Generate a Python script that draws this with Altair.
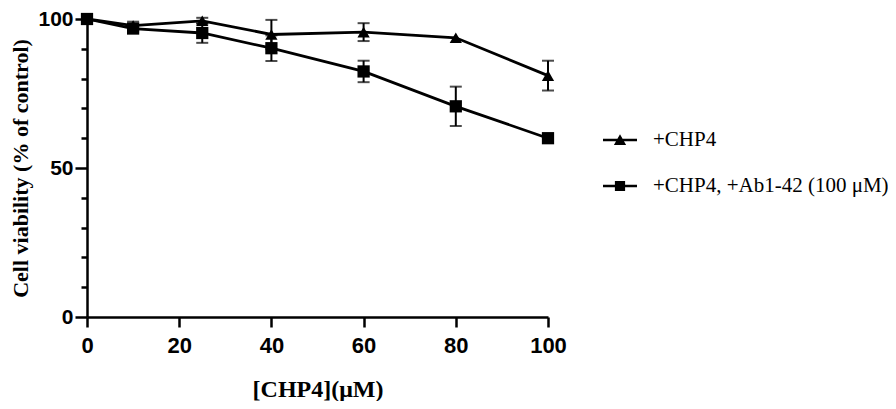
import altair as alt
import pandas as pd

conc = [0, 10, 25, 40, 60, 80, 100]
chp4 = [100, 97.8, 99.4, 94.8, 95.6, 93.7, 81.0]
chp4_err = [0, 1.3, 1.0, 4.9, 3.0, 0, 5.0]
chp4_ab = [100, 96.8, 95.3, 90.2, 82.4, 70.7, 60.0]
chp4_ab_err = [0, 1.0, 3.3, 4.3, 3.6, 6.6, 1.2]
series_names = ["+CHP4", "+CHP4, +Ab1-42 (100 μM)"]
x_ticks = [0, 20, 40, 60, 80, 100]
y_ticks = [0, 10, 20, 30, 40, 50, 60, 70, 80, 90, 100]

rows = []
for name, vals, errs in [(series_names[0], chp4, chp4_err),
                         (series_names[1], chp4_ab, chp4_ab_err)]:
    for c, v, e in zip(conc, vals, errs):
        rows.append({"conc": c, "viab": v, "lo": v - e, "hi": v + e,
                     "err": e, "series": name})
df = pd.DataFrame(rows)

path_tri = "M-1,-0.08L1,-0.08L1,0.08L-1,0.08Z M-0.36,0.3L0,-0.34L0.36,0.3Z"
path_sq = "M-1,-0.08L1,-0.08L1,0.08L-1,0.08Z M-0.3,-0.3L0.3,-0.3L0.3,0.3L-0.3,0.3Z"

x_scale = alt.Scale(domain=[0, 100], nice=False)
y_scale = alt.Scale(domain=[0, 100], nice=False)

x_axis = alt.Axis(values=x_ticks, title="[CHP4](μM)", grid=False,
                  domainColor="black", domainWidth=2.5,
                  tickColor="black", tickWidth=2.5, tickSize=10,
                  labelFont="Liberation Sans", labelFontWeight="bold",
                  labelFontSize=22, labelColor="black", labelPadding=8,
                  titleFont="Liberation Serif", titleFontWeight="bold",
                  titleFontSize=24, titleColor="black", titlePadding=21,
                  labelFlush=False, labelOverlap=False)
y_axis = alt.Axis(values=y_ticks, title="Cell viability (% of control)",
                  grid=False, domainColor="black", domainWidth=2.5,
                  tickColor="black", tickWidth=2.5,
                  tickSize={"condition": {"test": "datum.value % 50 === 0", "value": 12}, "value": 6},
                  labelExpr="datum.value % 50 === 0 ? datum.label : ''",
                  labelFont="Liberation Sans", labelFontWeight="bold",
                  labelFontSize=21, labelColor="black", labelPadding=2,
                  titleFont="Liberation Serif", titleFontWeight="bold",
                  titleFontSize=22, titleColor="black", titlePadding=5,
                  labelFlush=False, labelOverlap=False)

x_enc = alt.X("conc:Q", scale=x_scale, axis=x_axis)
y_enc = alt.Y("viab:Q", scale=y_scale, axis=y_axis)

base = alt.Chart(df)
err_df = base.transform_filter("datum.err > 0")

rules = err_df.mark_rule(color="black", strokeWidth=2).encode(
    x=x_enc, y=alt.Y("lo:Q", scale=y_scale, axis=y_axis), y2="hi:Q", detail="series:N")
cap_lo = err_df.mark_tick(color="black", orient="horizontal", size=12, thickness=2).encode(
    x=x_enc, y=alt.Y("lo:Q", scale=y_scale, axis=y_axis))
cap_hi = err_df.mark_tick(color="black", orient="horizontal", size=12, thickness=2).encode(
    x=x_enc, y=alt.Y("hi:Q", scale=y_scale, axis=y_axis))

lines = base.mark_line(color="black", strokeWidth=2.8).encode(
    x=x_enc, y=y_enc, detail="series:N")

points = base.mark_point(filled=True, color="black", size=150, opacity=1).encode(
    x=x_enc, y=y_enc,
    shape=alt.Shape("series:N",
                    scale=alt.Scale(domain=series_names, range=["triangle-up", "square"]),
                    legend=None))

legend_layer = base.mark_point(filled=True, color="black", opacity=0).encode(
    x=x_enc, y=y_enc,
    shape=alt.Shape("series:N",
                    scale=alt.Scale(domain=series_names, range=[path_tri, path_sq]),
                    legend=alt.Legend(title=None, orient="none", legendX=516, legendY=104,
                                      labelFont="Liberation Serif", labelFontSize=21,
                                      labelColor="black", symbolSize=1156,
                                      symbolFillColor="black", symbolStrokeColor="black",
                                      symbolStrokeWidth=0, symbolOpacity=1,
                                      rowPadding=19, labelOffset=16, padding=0,
                                      labelLimit=400)))

chart = alt.layer(rules, cap_lo, cap_hi, lines, points, legend_layer).resolve_scale(
    shape="independent"
).properties(
    width=461, height=298,
    padding={"left": 79, "top": 11, "right": 340, "bottom": 84},
    autosize=alt.AutoSizeParams(type="none"),
).configure_view(stroke=None).configure_axis(labelOverlap=False)

chart.save("out.html", embed_options={"renderer": "svg", "actions": False})
